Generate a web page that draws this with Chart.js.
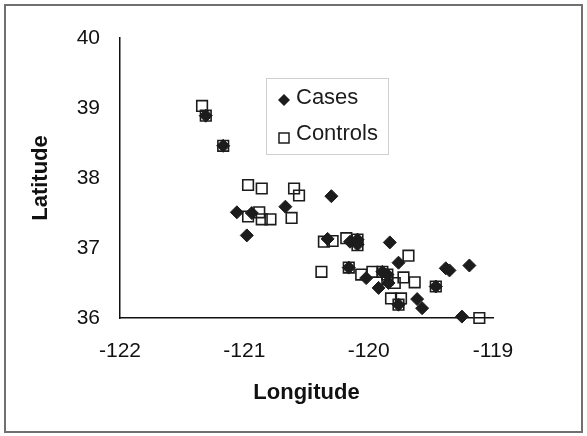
<!DOCTYPE html>
<html>
<head>
<meta charset="utf-8">
<script src="https://cdn.jsdelivr.net/npm/chart.js@4.4.1/dist/chart.umd.min.js"></script>
<style>
  html, body { margin: 0; padding: 0; background: #fff; }
  #wrap { width: 587px; height: 436px; position: relative; }
</style>
</head>
<body>
<div id="wrap"><canvas id="c" width="587" height="436"></canvas></div>
<script>
// ---- data ----
const caseLon = [-121.31, -121.17, -120.30, -121.06, -120.94, -120.67, -120.98, -120.33, -120.15, -120.09,
                 -120.09, -119.83, -120.16, -120.02, -119.92, -119.84, -119.85, -119.89, -119.76, -119.76,
                 -119.61, -119.57, -119.46, -119.38, -119.35, -119.19, -119.25];
const caseLat = [38.89, 38.46, 37.74, 37.51, 37.50, 37.59, 37.18, 37.13, 37.09, 37.12,
                 37.05, 37.08, 36.72, 36.57, 36.43, 36.50, 36.62, 36.66, 36.79, 36.19,
                 36.27, 36.14, 36.45, 36.71, 36.68, 36.75, 36.02];
const ctrlLon = [-121.34, -121.31, -121.17, -120.97, -120.86, -120.60, -120.56, -120.97, -120.88, -120.86,
                 -120.79, -120.62, -120.36, -120.29, -120.18, -120.09, -120.09, -120.38, -120.16, -120.06,
                 -119.97, -119.89, -119.85, -119.68, -119.72, -119.63, -119.79, -119.82, -119.74, -119.76,
                 -119.46, -119.11, -119.85];
const ctrlLat = [39.03, 38.89, 38.46, 37.90, 37.85, 37.85, 37.75, 37.45, 37.51, 37.41,
                 37.41, 37.43, 37.09, 37.10, 37.14, 37.12, 37.04, 36.66, 36.72, 36.62,
                 36.66, 36.66, 36.62, 36.89, 36.58, 36.51, 36.50, 36.28, 36.28, 36.19,
                 36.45, 36.00, 36.55];
const seriesNames = ['Cases', 'Controls'];
const xTicks = [-122, -121, -120, -119];
const yTicks = [36, 37, 38, 39, 40];
const xTitle = 'Longitude';
const yTitle = 'Latitude';

const toPts = (xs, ys) => xs.map((x, i) => ({ x: x, y: ys[i] }));
const INK = '#1c1c1c';
const FONT = '"Liberation Sans", Arial, sans-serif';

const frame = {
  id: 'frame',
  beforeDraw(chart) {
    const ctx = chart.ctx;
    ctx.save();
    ctx.fillStyle = '#fff';
    ctx.fillRect(0, 0, chart.width, chart.height);
    ctx.strokeStyle = '#707070';
    ctx.lineWidth = 2;
    ctx.strokeRect(5, 5, 577, 427);
    ctx.restore();
  },
  afterDraw(chart) {
    const ctx = chart.ctx;
    ctx.save();
    ctx.strokeStyle = '#d0d0d0';
    ctx.lineWidth = 1;
    ctx.strokeRect(266.5, 78.5, 122, 76);
    ctx.fillStyle = INK;
    ctx.font = '22px ' + FONT;
    ctx.textBaseline = 'middle';
    ctx.textAlign = 'left';
    const ds = chart.data.datasets;
    let cx = 284, cy = 100, r = 6;
    ctx.beginPath();
    ctx.moveTo(cx, cy - r); ctx.lineTo(cx + r, cy); ctx.lineTo(cx, cy + r); ctx.lineTo(cx - r, cy); ctx.closePath();
    ctx.fill();
    ctx.fillText(ds[0].label, 296, 98);
    ctx.strokeStyle = INK;
    ctx.lineWidth = 1.5;
    ctx.strokeRect(279, 133, 10, 10);
    ctx.fillText(ds[1].label, 296, 134);
    ctx.restore();
  }
};

new Chart(document.getElementById('c'), {
  type: 'scatter',
  data: {
    datasets: [
      {
        label: seriesNames[0],
        data: toPts(caseLon, caseLat),
        pointStyle: 'rectRot',
        pointRadius: 6.5,
        pointBackgroundColor: INK,
        pointBorderColor: INK,
        pointBorderWidth: 1,
        clip: false
      },
      {
        label: seriesNames[1],
        data: toPts(ctrlLon, ctrlLat),
        pointStyle: 'rect',
        pointRadius: 7.5,
        pointBackgroundColor: 'rgba(0,0,0,0)',
        pointBorderColor: INK,
        pointBorderWidth: 1.6,
        clip: false
      }
    ]
  },
  options: {
    responsive: false,
    animation: false,
    events: [],
    layout: { padding: { left: 0, top: 38, right: 94, bottom: 0 } },
    plugins: { legend: { display: false }, tooltip: { enabled: false } },
    scales: {
      x: {
        type: 'linear',
        min: xTicks[0],
        max: xTicks[xTicks.length - 1],
        afterBuildTicks(scale) { scale.ticks = xTicks.map(v => ({ value: v })); },
        afterFit(scale) { scale.height = 118; },
        grid: { display: false, drawTicks: false },
        border: { display: true, color: '#111', width: 1.5 },
        ticks: { color: '#111', padding: 21, font: { family: FONT, size: 21 } },
        title: { display: true, text: xTitle, color: '#111', padding: { top: 0, bottom: 30 },
                 font: { family: FONT, size: 22, weight: 'bold' } }
      },
      y: {
        type: 'linear',
        min: yTicks[0],
        max: yTicks[yTicks.length - 1],
        afterBuildTicks(scale) { scale.ticks = yTicks.map(v => ({ value: v })); },
        afterFit(scale) { scale.width = 120; },
        grid: { display: false, drawTicks: false },
        border: { display: true, color: '#111', width: 1.5 },
        ticks: { color: '#111', padding: 20, font: { family: FONT, size: 21 } },
        title: { display: true, text: yTitle, color: '#111', padding: { top: 28, bottom: 0 },
                 font: { family: FONT, size: 22, weight: 'bold' } }
      }
    }
  },
  plugins: [frame]
});
</script>
</body>
</html>
